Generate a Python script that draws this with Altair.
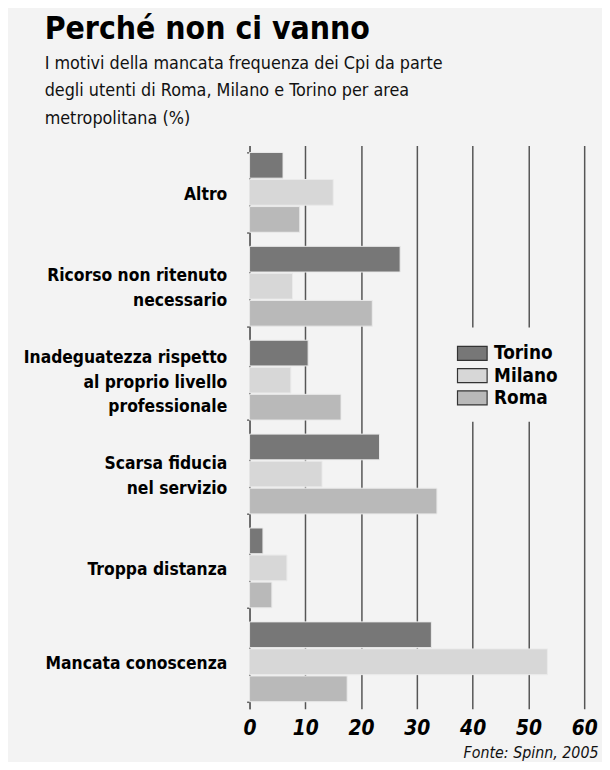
import altair as alt
import pandas as pd

categories = [
    "Altro",
    "Ricorso non ritenuto|necessario",
    "Inadeguatezza rispetto|al proprio livello|professionale",
    "Scarsa fiducia|nel servizio",
    "Troppa distanza",
    "Mancata conoscenza",
]
cities = ["Torino", "Milano", "Roma"]
torino = [6, 27, 10.5, 23.3, 2.4, 32.6]
milano = [15, 7.7, 7.4, 13, 6.7, 53.4]
roma = [9, 22, 16.4, 33.6, 4, 17.5]
x_ticks = [0, 10, 20, 30, 40, 50, 60]
colors = ["#777777", "#d7d7d7", "#b9b9b9"]

rows = []
for i, c in enumerate(categories):
    for city, vals in zip(cities, [torino, milano, roma]):
        rows.append({"cat": c, "city": city, "value": vals[i]})
df = pd.DataFrame(rows)

FONT = "'Liberation Sans Narrow', 'DejaVu Sans Condensed', 'Roboto Condensed', 'Arial Narrow', sans-serif"
BG = "#f3f3f3"

chart = alt.Chart(df).mark_bar(stroke="#eaeaea", strokeWidth=1).encode(
    x=alt.X(
        "value:Q",
        scale=alt.Scale(domain=[0, 60], nice=False),
        axis=alt.Axis(
            values=x_ticks,
            grid=True,
            gridColor="#555555",
            gridWidth=1.5,
            domain=False,
            ticks=False,
            labelFont=FONT,
            labelFontSize=21,
            labelFontWeight="bold",
            labelFontStyle="italic",
            labelColor="#000000",
            labelPadding=9,
            labelFlush=False,
            title="Fonte: Spinn, 2005",
            titleFont=FONT,
            titleFontSize=16,
            titleFontWeight="normal",
            titleFontStyle="italic",
            titleColor="#111111",
            titleAnchor="end",
            titleAlign="right",
            titleX=352,
            titlePadding=6,
        ),
    ),
    y=alt.Y(
        "cat:N",
        sort=categories,
        scale=alt.Scale(paddingInner=0.15, paddingOuter=0.075),
        axis=alt.Axis(
            title=None,
            labelExpr="split(datum.label, '|')",
            labelOffset=alt.ExprRef("2 - (length(split(datum.label, '|')) - 1) * 12.5"),
            labelFont=FONT,
            labelFontSize=17.5,
            labelFontWeight="bold",
            labelColor="#000000",
            labelLineHeight=25,
            labelPadding=20,
            labelAlign="right",
            labelLimit=300,
            domain=True,
            domainColor="#666666",
            domainWidth=1.5,
            ticks=True,
            tickBand="extent",
            tickSize=3,
            tickColor="#666666",
            tickWidth=1.5,
        ),
    ),
    yOffset=alt.YOffset("city:N", sort=cities, scale=alt.Scale(paddingInner=0.05)),
    color=alt.Color(
        "city:N",
        sort=cities,
        scale=alt.Scale(domain=cities, range=colors),
        legend=alt.Legend(
            title=None,
            orient="none",
            legendX=199,
            legendY=184,
            fillColor=BG,
            padding=14,
            symbolType="M-1.36,-0.64H1.36V0.64H-1.36Z",
            symbolSize=484,
            symbolStrokeColor="#333333",
            symbolStrokeWidth=1.2,
            symbolOpacity=1,
            labelFont=FONT,
            labelFontSize=19,
            labelFontWeight="bold",
            labelColor="#000000",
            labelOffset=10,
            rowPadding=0.5,
        ),
    ),
).properties(
    width=338,
    height=569,
    background=BG,
    padding={"left": 244, "top": 135, "right": 18, "bottom": 50},
    autosize=alt.AutoSizeParams(type="none"),
    title=alt.TitleParams(
        text="Perché non ci vanno",
        subtitle=[
            "I motivi della mancata frequenza dei Cpi da parte",
            "degli utenti  di Roma, Milano e Torino per area",
            "metropolitana (%)",
        ],
        anchor="start",
        frame="group",
        dx=-207,
        font=FONT,
        fontSize=32,
        fontWeight="bold",
        color="#000000",
        subtitleFont=FONT,
        subtitleFontSize=18,
        subtitleColor="#111111",
        subtitleLineHeight=27.5,
        subtitlePadding=9,
        offset=8,
    ),
).configure_view(stroke=None)

chart.save("out.html", embed_options={"renderer": "svg", "actions": False})
